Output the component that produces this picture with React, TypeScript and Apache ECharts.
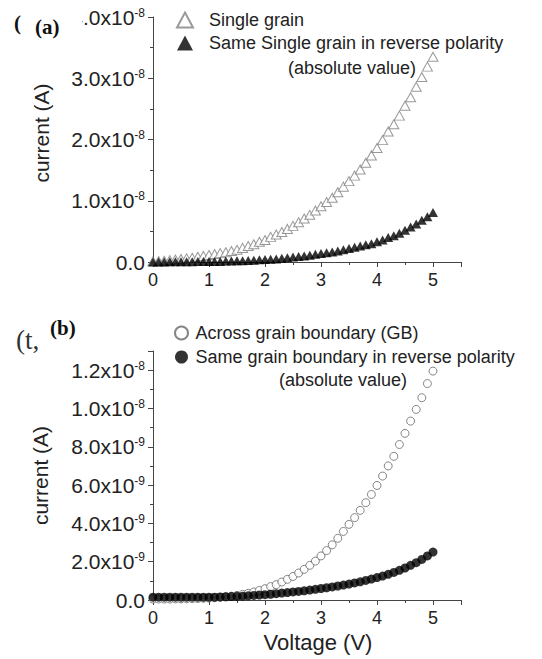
import React, { useEffect, useRef } from 'react';
import * as echarts from 'echarts';

const voltage = [
  0.0, 0.1, 0.2, 0.3, 0.4, 0.5, 0.6, 0.7, 0.8, 0.9,
  1.0, 1.1, 1.2, 1.3, 1.4, 1.5, 1.6, 1.7, 1.8, 1.9,
  2.0, 2.1, 2.2, 2.3, 2.4, 2.5, 2.6, 2.7, 2.8, 2.9,
  3.0, 3.1, 3.2, 3.3, 3.4, 3.5, 3.6, 3.7, 3.8, 3.9,
  4.0, 4.1, 4.2, 4.3, 4.4, 4.5, 4.6, 4.7, 4.8, 4.9,
  5.0,
];

// panel (a), units of 1e-8 A
const singleGrain = [
  0.01, 0.015, 0.02, 0.03, 0.04, 0.05, 0.06, 0.07, 0.085, 0.1,
  0.115, 0.13, 0.145, 0.16, 0.18, 0.2, 0.23, 0.26, 0.29, 0.33,
  0.36, 0.41, 0.45, 0.49, 0.54, 0.59, 0.65, 0.71, 0.77, 0.84,
  0.91, 0.98, 1.05, 1.14, 1.23, 1.32, 1.41, 1.51, 1.62, 1.74,
  1.86, 1.99, 2.13, 2.25, 2.39, 2.55, 2.69, 2.86, 3.02, 3.19,
  3.35,
];
const singleGrainReverse = [
  0.0, 0.0, 0.0, 0.005, 0.005, 0.005, 0.005, 0.005, 0.01, 0.01,
  0.01, 0.01, 0.01, 0.015, 0.015, 0.02, 0.02, 0.025, 0.03, 0.035,
  0.04, 0.045, 0.05, 0.06, 0.07, 0.08, 0.09, 0.1, 0.11, 0.125,
  0.14, 0.15, 0.165, 0.18, 0.2, 0.22, 0.24, 0.26, 0.28, 0.3,
  0.33, 0.36, 0.4, 0.43, 0.47, 0.52, 0.57, 0.62, 0.68, 0.74,
  0.81,
];

// panel (b), units of 1e-9 A
const grainBoundary = [
  0.05, 0.05, 0.05, 0.05, 0.06, 0.06, 0.07, 0.07, 0.08, 0.09,
  0.1, 0.12, 0.14, 0.17, 0.2, 0.24, 0.29, 0.35, 0.42, 0.5,
  0.59, 0.7, 0.8, 0.94, 1.08, 1.23, 1.41, 1.6, 1.81, 2.03,
  2.3, 2.58, 2.88, 3.22, 3.58, 3.95, 4.3, 4.68, 5.08, 5.51,
  5.98, 6.47, 7.0, 7.5, 8.12, 8.7, 9.34, 9.95, 10.56, 11.3,
  11.95,
];
const grainBoundaryReverse = [
  0.15, 0.15, 0.15, 0.15, 0.15, 0.15, 0.15, 0.15, 0.15, 0.15,
  0.15, 0.15, 0.16, 0.17, 0.18, 0.19, 0.2, 0.22, 0.24, 0.26,
  0.28, 0.3, 0.33, 0.36, 0.39, 0.42, 0.45, 0.48, 0.52, 0.56,
  0.6, 0.64, 0.68, 0.73, 0.78, 0.83, 0.89, 0.95, 1.02, 1.09,
  1.17, 1.25, 1.34, 1.44, 1.55, 1.67, 1.81, 1.95, 2.12, 2.3,
  2.5,
];

const names = {
  a1: 'Single grain',
  a2: 'Same Single grain in reverse polarity',
  b1: 'Across grain boundary (GB)',
  b2: 'Same grain boundary in reverse polarity',
};

const SANS = '"Liberation Sans", Arial, sans-serif';
const SERIF = '"Liberation Serif", "Times New Roman", serif';
const AX = '#444';
const TXT = '#222';

const pair = (ys: number[]) => voltage.map((v, i) => [v, ys[i]]);

const rich = {
  m: { fontSize: 21, fontFamily: SANS, color: TXT },
  s: { fontSize: 12, fontFamily: SANS, color: TXT, verticalAlign: 'top' },
};

const fmtTop = (v: number) => (v === 0 ? '{m|0.0}' : `{m|${v.toFixed(1)}x10}{s|-8}`);
const fmtBottom = (v: number) => {
  if (v === 0) return '{m|0.0}';
  if (v >= 10) return `{m|${(v / 10).toFixed(1)}x10}{s|-8}`;
  return `{m|${v.toFixed(1)}x10}{s|-9}`;
};

const commonAxis = {
  axisLine: { show: true, lineStyle: { color: AX, width: 1 } },
  axisTick: { show: true, inside: false, length: 5, lineStyle: { color: AX } },
  minorTick: { show: true, splitNumber: 2, length: 3, lineStyle: { color: AX } },
  splitLine: { show: false },
  minorSplitLine: { show: false },
};

export default function App() {
  const ref = useRef<HTMLDivElement>(null);
  useEffect(() => {
    if (!ref.current) return;
    const chart = echarts.init(ref.current, null, { renderer: 'svg' });
    const xAxisBase = {
      type: 'value',
      min: 0,
      max: 5.5,
      interval: 1,
      ...commonAxis,
      axisLabel: {
        fontSize: 18,
        fontFamily: SANS,
        color: TXT,
        margin: 9,
        showMaxLabel: false,
        formatter: (v: number) => String(v),
      },
    };
    chart.setOption({
      animation: false,
      backgroundColor: '#fff',
      grid: [
        { left: 153, top: 17, width: 308, height: 245 },
        { left: 153, top: 351, width: 308, height: 249 },
      ],
      xAxis: [
        { ...xAxisBase, gridIndex: 0 },
        {
          ...xAxisBase,
          gridIndex: 1,
          name: 'Voltage (V)',
          nameLocation: 'middle',
          nameGap: 31,
          nameTextStyle: { fontSize: 22, fontFamily: SANS, color: TXT, padding: [0, 0, 0, 22] },
        },
      ],
      yAxis: [
        {
          type: 'value',
          gridIndex: 0,
          min: 0,
          max: 4,
          interval: 1,
          ...commonAxis,
          axisLabel: { margin: 8, fontSize: 21, formatter: fmtTop, rich },
        },
        {
          type: 'value',
          gridIndex: 1,
          min: 0,
          max: 13,
          interval: 2,
          ...commonAxis,
          axisLabel: { margin: 8, fontSize: 21, formatter: fmtBottom, rich, showMaxLabel: false },
          name: 'current (A)',
          nameLocation: 'middle',
          nameGap: 102,
          nameTextStyle: { fontSize: 21, fontFamily: SANS, color: TXT },
        },
      ],
      legend: [
        {
          data: [names.a1, names.a2],
          orient: 'vertical',
          left: 171,
          top: 6,
          itemWidth: 16,
          itemHeight: 15,
          itemGap: 5,
          selectedMode: false,
          textStyle: { fontSize: 18, fontFamily: SANS, color: TXT, padding: [0, 0, 0, 11] },
        },
        {
          data: [names.b1, names.b2],
          orient: 'vertical',
          left: 169,
          top: 319,
          itemWidth: 14,
          itemHeight: 13,
          itemGap: 6,
          selectedMode: false,
          textStyle: { fontSize: 18, fontFamily: SANS, color: TXT, padding: [0, 0, 0, 2] },
        },
      ],
      series: [
        {
          type: 'scatter',
          name: names.a1,
          xAxisIndex: 0,
          yAxisIndex: 0,
          data: pair(singleGrain),
          symbol: 'triangle',
          symbolSize: [10, 9],
          itemStyle: { color: '#fff', borderColor: '#808080', borderWidth: 1 },
        },
        {
          type: 'scatter',
          name: names.a2,
          xAxisIndex: 0,
          yAxisIndex: 0,
          data: pair(singleGrainReverse),
          symbol: 'triangle',
          symbolSize: [10, 9],
          itemStyle: { color: '#000' },
        },
        {
          type: 'scatter',
          name: names.b1,
          xAxisIndex: 1,
          yAxisIndex: 1,
          data: pair(grainBoundary),
          symbol: 'circle',
          symbolSize: 8,
          itemStyle: { color: '#fff', borderColor: '#666', borderWidth: 1 },
        },
        {
          type: 'scatter',
          name: names.b2,
          xAxisIndex: 1,
          yAxisIndex: 1,
          data: pair(grainBoundaryReverse),
          symbol: 'circle',
          symbolSize: 9,
          itemStyle: { color: '#000' },
        },
      ],
      graphic: [
        {
          type: 'text',
          x: 41,
          y: 133,
          rotation: Math.PI / 2,
          style: {
            text: 'current (A)',
            fontSize: 21,
            fontFamily: SANS,
            fill: TXT,
            align: 'center',
            verticalAlign: 'middle',
          },
        },
        {
          type: 'text',
          left: 288,
          top: 59,
          z: 100,
          style: { text: '(absolute value)', fontSize: 18, fontFamily: SANS, fill: TXT },
        },
        {
          type: 'text',
          left: 279,
          top: 371,
          z: 100,
          style: { text: '(absolute value)', fontSize: 18, fontFamily: SANS, fill: TXT },
        },
        {
          type: 'rect',
          z: 100,
          shape: { x: 64, y: 6, width: 18, height: 24 },
          style: { fill: '#fff' },
        },
        {
          type: 'text',
          left: 35,
          top: 16,
          z: 101,
          style: { text: '(a)', fontSize: 21, fontWeight: 'bold', fontFamily: SERIF, fill: '#111' },
        },
        {
          type: 'text',
          left: 14,
          top: 12,
          z: 101,
          style: { text: '(', fontSize: 21, fontWeight: 'bold', fontFamily: SERIF, fill: '#111' },
        },
        {
          type: 'text',
          left: 50,
          top: 317,
          z: 101,
          style: { text: '(b)', fontSize: 21, fontWeight: 'bold', fontFamily: SERIF, fill: '#111' },
        },
        {
          type: 'text',
          left: 16,
          top: 326,
          z: 101,
          style: { text: '(t,', fontSize: 27, fontFamily: SERIF, fill: '#333' },
        },
      ],
    });
    return () => chart.dispose();
  }, []);
  return (
    <div
      ref={ref}
      style={{ position: 'absolute', left: 0, top: 0, width: 542, height: 659, background: '#fff' }}
    />
  );
}
